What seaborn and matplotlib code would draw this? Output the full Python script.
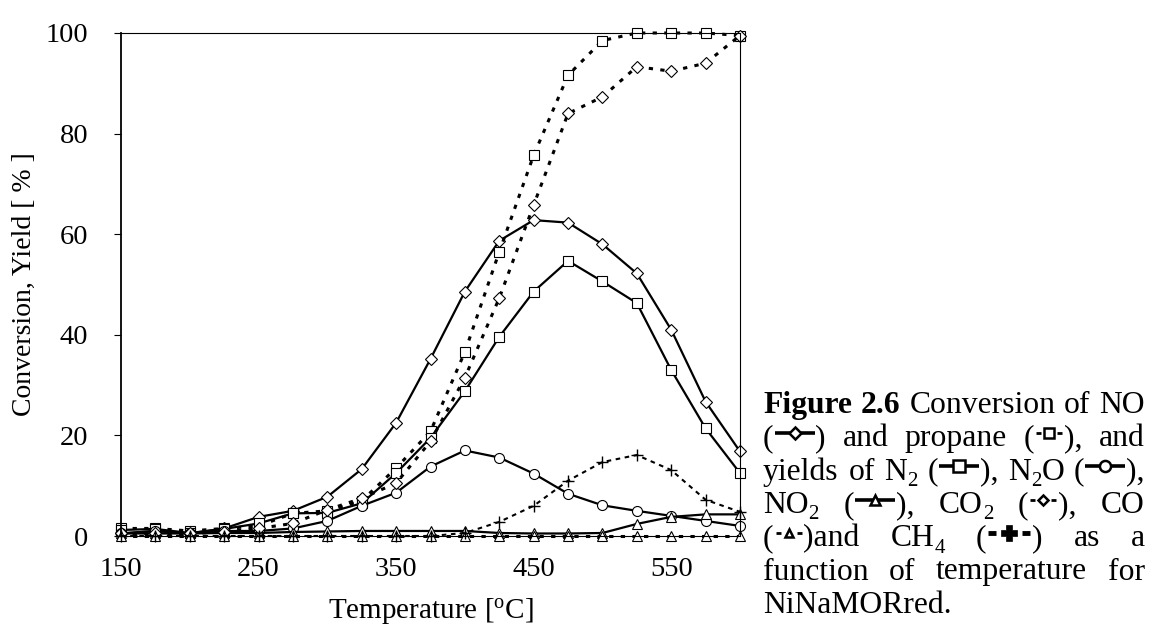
import numpy as np
import pandas as pd
import matplotlib
matplotlib.use("Agg")
import matplotlib.pyplot as plt
import seaborn as sns
from matplotlib.lines import Line2D

# ---------------- data ----------------
temperature = [150, 175, 200, 225, 250, 275, 300, 325, 350, 375, 400,
               425, 450, 475, 500, 525, 550, 575, 600]
no_conversion = [0.5, 1.0, 0.5, 1.5, 3.8, 5.0, 7.8, 13.3, 22.5, 35.2, 48.6,
                 58.7, 62.8, 62.3, 58.0, 52.2, 41.0, 26.7, 16.8]
propane_conversion = [1.5, 1.5, 1.0, 1.5, 2.0, 4.5, 5.0, 7.0, 13.5, 20.8, 36.6,
                      56.5, 75.7, 91.6, 98.5, 100.0, 100.0, 100.0, 99.5]
n2_yield = [1.2, 1.4, 0.6, 1.4, 2.5, 4.5, 4.6, 6.5, 12.5, 19.5, 28.8,
            39.6, 48.6, 54.7, 50.6, 46.3, 33.0, 21.4, 12.5]
n2o_yield = [0.5, 1.0, 0.5, 1.0, 1.0, 1.5, 3.0, 6.0, 8.6, 13.8, 17.0,
             15.6, 12.4, 8.4, 6.1, 5.0, 4.0, 3.0, 2.0]
no2_yield = [0.5, 0.5, 0.5, 0.6, 0.6, 0.8, 0.9, 1.0, 1.0, 1.0, 1.0,
             0.6, 0.5, 0.5, 0.6, 2.4, 3.8, 4.3, 4.3]
co2_yield = [0.5, 0.5, 0.5, 0.8, 1.5, 2.5, 5.2, 7.5, 10.5, 18.8, 31.5,
             47.3, 65.8, 84.0, 87.3, 93.3, 92.4, 94.0, 99.5]
co_yield = [0.0, 0.0, 0.0, 0.0, 0.0, 0.0, 0.0, 0.0, 0.0, 0.0, 0.0,
            0.0, 0.0, 0.0, 0.0, 0.0, 0.0, 0.0, 0.0]
ch4_yield = [0.0, 0.0, 0.0, 0.0, 0.0, 0.0, 0.0, 0.0, 0.0, 0.0, 0.6,
             2.8, 6.0, 11.0, 14.7, 16.1, 13.1, 7.2, 4.8]
x_ticks = [150, 250, 350, 450, 550]
y_ticks = [0, 20, 40, 60, 80, 100]

series = {
    "NO": no_conversion, "C3H8": propane_conversion, "N2": n2_yield,
    "N2O": n2o_yield, "NO2": no2_yield, "CO2": co2_yield, "CO": co_yield,
    "CH4": ch4_yield,
}

# ---------------- styles ----------------
DOT = (0, (1.4, 2.4))
styles = {
    "NO":   dict(ls="-", lw=1.6, marker="D", ms=6.6),
    "C3H8": dict(ls=DOT, lw=2.2, marker="s", ms=7.2),
    "N2":   dict(ls="-", lw=1.6, marker="s", ms=7.2),
    "N2O":  dict(ls="-", lw=1.6, marker="o", ms=7.2),
    "NO2":  dict(ls="-", lw=1.6, marker="^", ms=6.8),
    "CO2":  dict(ls=DOT, lw=2.2, marker="D", ms=6.6),
    "CO":   dict(ls=DOT, lw=2.2, marker="^", ms=6.8),
    "CH4":  dict(ls=(0, (2.2, 2.2)), lw=1.5, marker="+", ms=9),
}

W, H, DPI = 1157, 629, 100
AX_L, AX_R, AX_T, AX_B = 121, 740, 33, 536   # pixel frame of the plot area
sns.set_theme(style="white")
plt.rcParams["font.family"] = ["Liberation Serif", "DejaVu Serif"]
plt.rcParams["mathtext.fontset"] = "custom"
plt.rcParams["mathtext.rm"] = "Liberation Serif"
plt.rcParams["mathtext.it"] = "Liberation Serif:italic"
plt.rcParams["mathtext.bf"] = "Liberation Serif:bold"

fig = plt.figure(figsize=(W / DPI, H / DPI), dpi=DPI)
fig.patch.set_facecolor("white")
ax = fig.add_axes([AX_L / W, 1 - AX_B / H, (AX_R - AX_L) / W, (AX_B - AX_T) / H])
ax.set_facecolor("white")

df = pd.DataFrame({"T": temperature, **series})
for name in series:
    st = styles[name]
    sns.lineplot(data=df, x="T", y=name, ax=ax, color="black",
                 linestyle=st["ls"], linewidth=st["lw"], marker=st["marker"],
                 markersize=st["ms"], markerfacecolor="white",
                 markeredgecolor="black",
                 markeredgewidth=1.0 if name == "CH4" else 0.8,
                 clip_on=False, errorbar=None, sort=False)

ax.set_xlim(150, 600)
ax.set_ylim(0, 100)
ax.set_xticks(x_ticks)
ax.set_yticks(y_ticks)
TICK_FS = 20.5
ax.tick_params(axis="y", which="both", direction="out", length=5, width=0.8,
               color="black", left=True, labelsize=TICK_FS, pad=18.5,
               labelcolor="black")
ax.tick_params(axis="x", which="both", length=0, labelsize=TICK_FS, pad=15,
               labelcolor="black")
for s in ax.spines.values():
    s.set_visible(True)
    s.set_color("black")
    s.set_linewidth(0.8)
ax.spines["left"].set_linewidth(1.3)
ax.set_xlabel(r"Temperature [$^{\rm o}$C]", fontsize=21, color="black")
ax.set_ylabel("Conversion, Yield [ % ]", fontsize=20, color="black")
ax.xaxis.set_label_coords(0.5, (AX_B - 596) / (AX_B - AX_T))
ax.yaxis.set_label_coords((37 - AX_L) / (AX_R - AX_L), 0.5)
ax.grid(False)

# ---------------- caption with inline legend glyphs ----------------
fig.canvas.draw()
R = fig.canvas.get_renderer()
FS = 22.8
EM = FS * DPI / 72.0
SUB = FS * 0.66


def text_width(s, bold=False, size=FS):
    t = fig.text(0, 0, s, fontsize=size, fontweight="bold" if bold else "normal")
    w = t.get_window_extent(R).width
    t.remove()
    return w


glyph_w = {"solid": 42, "dot": 30, "ch4": 46}
glyphs = {
    "NO": ("solid", "D", 6.2), "N2": ("solid", "s", 8.0),
    "N2O": ("solid", "o", 8.0), "NO2": ("solid", "^", 7.5),
    "C3H8": ("dot", "s", 6.5), "CO2": ("dot", "D", 5.2),
    "CO": ("dot", "^", 6.0), "CH4": ("ch4", "P", 12),
}


def piece_width(p):
    kind, val = p
    if kind == "t":
        return text_width(val)
    if kind == "b":
        return text_width(val, bold=True)
    if kind == "s":
        return text_width(val, size=SUB)
    return glyph_w[glyphs[val][0]]


def fx(px):
    return px / W


def fy(py):
    return 1 - py / H


def draw_glyph(key, x0, base):
    kind, mk, ms = glyphs[key]
    w = glyph_w[kind]
    yc = base - 0.42 * EM
    common = dict(transform=fig.transFigure, color="black", solid_capstyle="butt")
    if kind == "solid":
        fig.add_artist(Line2D([fx(x0 + 1), fx(x0 + w - 1)], [fy(yc)] * 2,
                              lw=2.6, **common))
        fig.add_artist(Line2D([fx(x0 + w / 2)], [fy(yc)], marker=mk, ms=ms,
                              mfc="white", mec="black", mew=1.8,
                              transform=fig.transFigure, ls="none"))
    elif kind == "dot":
        fig.add_artist(Line2D([fx(x0 + 2), fx(x0 + 7)], [fy(yc)] * 2, lw=2.0, **common))
        fig.add_artist(Line2D([fx(x0 + w - 7), fx(x0 + w - 2)], [fy(yc)] * 2, lw=2.0, **common))
        fig.add_artist(Line2D([fx(x0 + w / 2)], [fy(yc)], marker=mk, ms=ms,
                              mfc="white", mec="black", mew=1.8,
                              transform=fig.transFigure, ls="none"))
    else:
        fig.add_artist(Line2D([fx(x0 + 2), fx(x0 + 10)], [fy(yc)] * 2, lw=3.5, **common))
        fig.add_artist(Line2D([fx(x0 + w - 10), fx(x0 + w - 2)], [fy(yc)] * 2, lw=3.5, **common))
        fig.add_artist(Line2D([fx(x0 + w / 2)], [fy(yc)], marker=mk, ms=ms,
                              mfc="black", mec="black", mew=0.5,
                              transform=fig.transFigure, ls="none"))


caption_lines = [
    [[("b", "Figure")], [("b", "2.6")], [("t", "Conversion")], [("t", "of")], [("t", "NO")]],
    [[("t", "("), ("g", "NO"), ("t", ")")], [("t", "and")], [("t", "propane")],
     [("t", "("), ("g", "C3H8"), ("t", "),")], [("t", "and")]],
    [[("t", "yields")], [("t", "of")], [("t", "N"), ("s", "2")],
     [("t", "("), ("g", "N2"), ("t", "),")], [("t", "N"), ("s", "2"), ("t", "O")],
     [("t", "("), ("g", "N2O"), ("t", "),")]],
    [[("t", "NO"), ("s", "2")], [("t", "("), ("g", "NO2"), ("t", "),")],
     [("t", "CO"), ("s", "2")], [("t", "("), ("g", "CO2"), ("t", "),")], [("t", "CO")]],
    [[("t", "("), ("g", "CO"), ("t", ")and")], [("t", "CH"), ("s", "4")],
     [("t", "("), ("g", "CH4"), ("t", ")")], [("t", "as")], [("t", "a")]],
    [[("t", "function")], [("t", "of")], [("t", "temperature")], [("t", "for")]],
    [[("t", "NiNaMORred.")]],
]

CAP_X0, CAP_X1 = 763, 1145
BASE0, LEAD = 413, 33.3
for i, words in enumerate(caption_lines):
    base = BASE0 + i * LEAD
    widths = [sum(piece_width(p) for p in w) for w in words]
    if i < len(caption_lines) - 1 and len(words) > 1:
        gap = (CAP_X1 - CAP_X0 - sum(widths)) / (len(words) - 1)
    else:
        gap = text_width(" ")
    x = CAP_X0
    for w, ww in zip(words, widths):
        for kind, val in w:
            pw = piece_width((kind, val))
            if kind in ("t", "b"):
                fig.text(fx(x), fy(base), val, fontsize=FS, va="baseline",
                         ha="left", color="black",
                         fontweight="bold" if kind == "b" else "normal")
            elif kind == "s":
                fig.text(fx(x), fy(base + 0.2 * EM), val, fontsize=SUB,
                         va="baseline", ha="left", color="black")
            else:
                draw_glyph(val, x, base)
            x += pw
        x += gap

fig.savefig("out.png", dpi=DPI, facecolor="white")
